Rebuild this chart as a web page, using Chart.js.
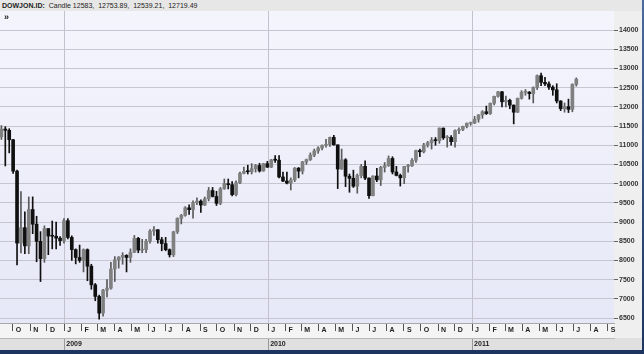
<!DOCTYPE html>
<html>
<head>
<meta charset="utf-8">
<script src="https://cdn.jsdelivr.net/npm/chart.js@4.4.1/dist/chart.umd.min.js"></script>
<style>
  body { margin: 0; background: #fff; }
  #wrap { position: relative; width: 644px; height: 354px; background: linear-gradient(#4a6a9c, #1d3461); }
  #c { position: absolute; left: 0; top: 0; }
  #hdr { position: absolute; left: 0; top: 0; width: 640px; height: 11px; padding-left: 2px;
         background: #e7e7e7; font: 7px "Liberation Sans", Arial, sans-serif; line-height: 11px;
         color: #222; white-space: nowrap; }
  #hdr b { font-weight: bold; margin-right: 2px; }
  #arr { position: absolute; left: 4px; top: 12px; font: bold 9px "Liberation Sans", Arial, sans-serif; color: #222; }
</style>
</head>
<body>
<div id="wrap">
  <canvas id="c" width="642" height="350"></canvas>
  <div id="hdr"><b>DOWJON.ID:</b> Candle 12583,&nbsp; 12753.89,&nbsp; 12539.21,&nbsp; 12719.49</div>
  <div id="arr">»</div>
</div>
<script>
// weekly candles, first week starts Mon 8 Sep 2008
const firstWeek = [2008, 8, 8];

const opens = [
  11220, 11421, 11388, 11143, 10325, 8451, 8852, 8378, 9325, 8943, 8497, 8046, 8829, 8635, 8629, 8579,
  8515, 9034, 8599, 8281, 8077, 8000, 8280, 7850, 7365, 7062, 6627, 7224, 7279, 7776, 8017, 8083, 8131,
  8076, 8212, 8575, 8268, 8277, 8500, 8764, 8799, 8539, 8438, 8280, 8146, 8743, 9093, 9171, 9370, 9321,
  9505, 9544, 9441, 9605, 9820, 9665, 9487, 9865, 9996, 9972, 9713, 10023, 10270, 10318, 10309, 10388,
  10471, 10329, 10520,
  10428, 10618, 10610, 10173, 10067, 10012, 10099, 10402, 10325, 10567, 10625, 10742, 10851, 10927, 10997,
  11019, 11204, 11009, 10380, 10620, 10193, 10137, 9932, 10211, 10450, 10144, 9686, 10198, 10098, 10425,
  10466, 10654, 10304, 10214, 10151, 10448, 10462, 10608, 10861, 10829, 11006, 11063, 11133, 11118, 11445,
  11193, 11204, 11092, 11382, 11410, 11492, 11573,
  11578, 11675, 11787, 11872, 11824, 12092, 12273, 12391, 12130, 12170, 12044, 11859, 12221, 12377, 12380,
  12342, 12505, 12811, 12638, 12596, 12512, 12441, 12151, 11952, 12004, 11934, 12583
];
const highs = [
  11510, 11483, 11430, 11150, 10350, 9794, 9265, 9653, 9654, 9150, 8750, 8900, 8830, 9026, 9000, 8620,
  9088, 9088, 8640, 8300, 8400, 8300, 8300, 7900, 7400, 7100, 7250, 7500, 7950, 8100, 8100, 8200, 8150,
  8300, 8650, 8600, 8550, 8550, 8800, 8880, 8800, 8600, 8600, 8300, 8760, 9110, 9200, 9400, 9450, 9550,
  9630, 9580, 9650, 9900, 9900, 9800, 9900, 10120, 10120, 10050, 10070, 10300, 10430, 10480, 10520, 10500,
  10530, 10530, 10580,
  10630, 10730, 10730, 10300, 10300, 10150, 10420, 10420, 10580, 10640, 10800, 10900, 10960, 11010, 11150,
  11210, 11258, 11010, 10900, 10650, 10250, 10350, 10250, 10500, 10590, 10150, 10200, 10400, 10450, 10550,
  10720, 10700, 10450, 10250, 10450, 10500, 10650, 10870, 10900, 11050, 11100, 11200, 11200, 11450, 11450,
  11250, 11250, 11400, 11450, 11500, 11580, 11600,
  11750, 11800, 11900, 12020, 12100, 12280, 12400, 12400, 12280, 12200, 12050, 12230, 12420, 12450, 12400,
  12520, 12830, 12880, 12770, 12650, 12550, 12600, 12160, 12100, 12200, 12600, 12753.89
];
const lows = [
  11150, 10459, 10800, 10266, 7882, 8197, 8176, 8175, 8695, 7965, 7449, 7950, 8149, 8300, 8300, 8390,
  8450, 8560, 8000, 7909, 7950, 7700, 7470, 7249, 6950, 6470, 6550, 7050, 7250, 7450, 7800, 7900, 7700,
  7950, 8200, 8200, 8200, 8200, 8450, 8650, 8450, 8250, 8250, 8087, 8100, 8700, 8950, 9150, 9200, 9100,
  9450, 9250, 9430, 9550, 9650, 9430, 9450, 9850, 9860, 9680, 9680, 10000, 10250, 10250, 10250, 10300,
  10300, 10320, 10420,
  10420, 10550, 10150, 10050, 9990, 9835, 10050, 10150, 10250, 10500, 10600, 10700, 10790, 10880, 10950,
  10970, 11000, 9870, 10370, 9920, 9774, 9900, 9750, 10150, 10100, 9614, 9680, 10050, 9950, 10300,
  10450, 10250, 10200, 9936, 10000, 10300, 10450, 10550, 10700, 10800, 10950, 10900, 11000, 11050, 11150,
  10950, 11000, 10950, 11300, 11380, 11450, 11520,
  11560, 11600, 11700, 11800, 11800, 12050, 12250, 12000, 12000, 11950, 11555, 11850, 12200, 12300, 12200,
  12100, 12450, 12550, 12550, 12450, 12300, 12100, 11900, 11860, 11850, 11870, 12539.21
];
const closes = [
  11421, 11388, 11143, 10325, 8451, 8852, 8378, 9325, 8943, 8497, 8046, 8829, 8635, 8629, 8579, 8515,
  9034, 8599, 8281, 8077, 8000, 8280, 7850, 7365, 7062, 6627, 7224, 7279, 7776, 8017, 8083, 8131, 8076,
  8212, 8575, 8268, 8277, 8500, 8764, 8799, 8539, 8438, 8280, 8146, 8743, 9093, 9171, 9370, 9321, 9505,
  9544, 9441, 9605, 9820, 9665, 9487, 9865, 9996, 9972, 9713, 10023, 10270, 10318, 10309, 10388, 10471,
  10329, 10520, 10428,
  10618, 10610, 10173, 10067, 10012, 10099, 10402, 10325, 10567, 10625, 10742, 10851, 10927, 10997, 11019,
  11204, 11009, 10380, 10620, 10193, 10137, 9932, 10211, 10450, 10144, 9686, 10198, 10098, 10425, 10466,
  10654, 10304, 10214, 10151, 10448, 10462, 10608, 10861, 10829, 11006, 11063, 11133, 11118, 11445, 11193,
  11204, 11092, 11382, 11410, 11492, 11573, 11578,
  11675, 11787, 11872, 11824, 12092, 12273, 12391, 12130, 12170, 12044, 11859, 12221, 12377, 12380, 12342,
  12505, 12811, 12638, 12596, 12512, 12441, 12151, 11952, 12004, 11934, 12582, 12719.49
];

const priceTicks = [6500, 7000, 7500, 8000, 8500, 9000, 9500, 10000, 10500, 11000, 11500, 12000, 12500, 13000, 13500, 14000];
const monthLetters = ['J', 'F', 'M', 'A', 'M', 'J', 'J', 'A', 'S', 'O', 'N', 'D'];
const monthRange = [[2008, 9], [2011, 8]];   // Oct 2008 .. Sep 2011
const yearTicks = [2009, 2010, 2011];

const DAY = 86400000;
const t0 = Date.UTC(...firstWeek);
const dayOf = (y, m, d) => (Date.UTC(y, m, d) - t0) / DAY;

const monthTicks = [];
for (let y = monthRange[0][0], m = monthRange[0][1]; y < monthRange[1][0] || (y === monthRange[1][0] && m <= monthRange[1][1]); ) {
  monthTicks.push({ value: dayOf(y, m, 1), label: monthLetters[m] });
  if (++m > 11) { m = 0; y++; }
}

const xMin = 0, xMax = 1099;
const weekX = closes.map((c, i) => i * 7 + 2.5);
const up = closes.map((c, i) => c >= opens[i]);
const bodyCol = up.map(u => u ? '#808080' : '#101010');
const wickCol = up.map(u => u ? '#5a5a5a' : '#101010');

const smallFont = { family: '"Liberation Sans", Arial, sans-serif', size: 7, weight: 'bold' };

const backdrop = {
  id: 'backdrop',
  beforeDraw(chart) {
    const { ctx, chartArea: a, scales } = chart;
    ctx.save();
    ctx.fillStyle = '#efefef';
    ctx.fillRect(0, 0, chart.width, chart.height);
    const g = ctx.createLinearGradient(0, a.top, 0, a.bottom);
    g.addColorStop(0, '#f4f5fc');
    g.addColorStop(1, '#e6e8f7');
    ctx.fillStyle = g;
    ctx.fillRect(a.left, a.top, a.right - a.left, a.bottom - a.top);
    const mx = scales.x, yx = scales.x2;
    ctx.fillStyle = '#f4f4f4';
    ctx.fillRect(0, mx.top, a.right, mx.bottom - mx.top);
    ctx.fillStyle = '#e0e0e0';
    ctx.fillRect(0, yx.top, chart.width, yx.bottom - yx.top);
    ctx.restore();
  }
};

new Chart(document.getElementById('c'), {
  type: 'bar',
  data: {
    datasets: [
      {
        label: 'wick',
        data: weekX.map((x, i) => ({ x, y: [lows[i], highs[i]] })),
        backgroundColor: wickCol,
        barThickness: 1,
        grouped: false,
        order: 2
      },
      {
        label: 'body',
        data: weekX.map((x, i) => ({ x, y: [opens[i], closes[i]] })),
        backgroundColor: bodyCol,
        barThickness: 3,
        grouped: false,
        minBarLength: 1,
        order: 1
      }
    ]
  },
  options: {
    responsive: false,
    animation: false,
    devicePixelRatio: 1,
    layout: { padding: { top: 11, left: 0, right: 0, bottom: 0 } },
    plugins: { legend: { display: false }, tooltip: { enabled: false }, title: { display: false } },
    scales: {
      x: {
        type: 'linear', position: 'bottom', min: xMin, max: xMax, weight: 1, offset: false,
        afterBuildTicks: s => { s.ticks = monthTicks.map(t => ({ value: t.value })); },
        afterFit: s => { s.height = 15; },
        grid: { offset: false, drawOnChartArea: false, drawTicks: true, tickLength: 8, tickColor: '#555', tickWidth: 1 },
        border: { display: true, color: '#a8a8a8' },
        ticks: {
          autoSkip: false, maxRotation: 0, align: 'start', labelOffset: 3, padding: -5,
          color: '#222', font: smallFont,
          callback: (v, i) => monthTicks[i] ? monthTicks[i].label : ''
        }
      },
      x2: {
        type: 'linear', position: 'bottom', min: xMin, max: xMax, weight: 2, offset: false,
        afterBuildTicks: s => { s.ticks = yearTicks.map(y => ({ value: dayOf(y, 0, 1) })); },
        afterFit: s => { s.height = 12; },
        grid: { offset: false, drawOnChartArea: true, color: '#c2c2cc', drawTicks: true, tickLength: 12, tickColor: '#999' },
        border: { display: true, color: '#b8b8b8' },
        ticks: {
          autoSkip: false, maxRotation: 0, align: 'start', labelOffset: 2, padding: -10,
          color: '#222', font: smallFont,
          callback: (v, i) => String(yearTicks[i])
        }
      },
      y: {
        type: 'linear', position: 'right', min: 6370, max: 14495,
        afterBuildTicks: s => { s.ticks = priceTicks.map(v => ({ value: v })); },
        afterFit: s => { s.width = 28; },
        grid: { color: '#c6c6d0', drawTicks: true, tickLength: 4, tickColor: '#666' },
        border: { display: false },
        ticks: { color: '#333', font: smallFont, padding: 1, callback: v => String(v) }
      }
    }
  },
  plugins: [backdrop]
});
</script>
</body>
</html>
